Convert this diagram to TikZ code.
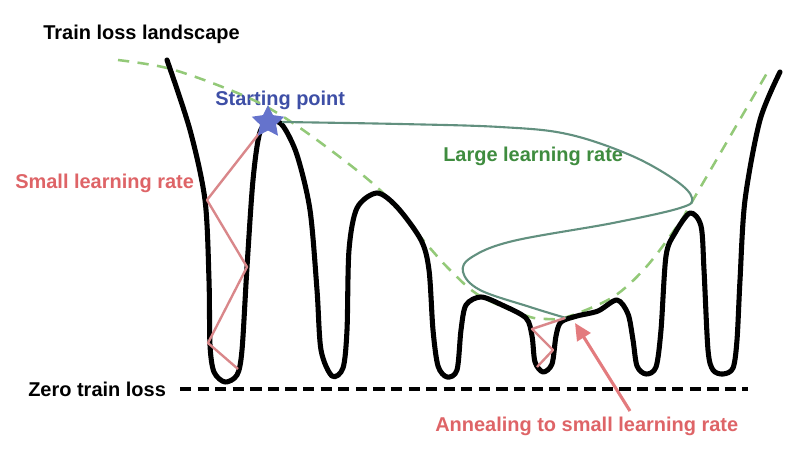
\documentclass[tikz,border=0pt]{standalone}
\usepackage{fontspec}
\setmainfont{Liberation Sans}
\usetikzlibrary{arrows.meta,shapes.geometric}
\definecolor{lossred}{HTML}{DE6467}
\definecolor{pathred}{HTML}{D9878A}
\definecolor{startblue}{HTML}{3E4FA6}
\definecolor{starfill}{HTML}{6573CC}
\definecolor{largegreen}{HTML}{3F8C3F}
\definecolor{dashgreen}{HTML}{93C978}
\definecolor{pathgreen}{HTML}{62907F}
\begin{document}
\begin{tikzpicture}[x=0.025cm, y=-0.025cm,
    lbl/.style={anchor=west, inner sep=0pt, font=\fontsize{14.2}{17}\selectfont\bfseries},
    landscape/.style={line width=3.6pt, line join=round, line cap=round},
    envelope/.style={dashgreen, line width=1.8pt, dash pattern=on 8pt off 6pt},
    zeroline/.style={line width=2.2pt, dash pattern=on 8pt off 4.5pt},
    smallstep/.style={pathred, line width=1.7pt, line join=round},
    largestep/.style={pathgreen, line width=1.5pt}]
  \useasboundingbox (0,0) rectangle (800,452);
  % labels
  \node[lbl] (title) at (43,34) {Train loss landscape};
  \node[lbl, startblue] (start) at (215,100) {Starting point};
  \node[lbl, lossred] (small) at (15,183) {Small learning rate};
  \node[lbl, largegreen] (large) at (443,156) {Large learning rate};
  \node[lbl] (zero) at (28,389) {Zero train loss};
  \node[lbl, lossred] (anneal) at (435,426) {Annealing to small learning rate};
  % zero loss level
  \coordinate (z0) at (180,389);
  \coordinate (z1) at (748,389);
  \draw[zeroline] (z0) -- (z1);
  % smoothed landscape
  \draw[envelope] plot[smooth, tension=0.55] coordinates {
    (118,60) (167,68) (220,86) (267,107) (317,140) (380,190) (423,240)
    (450,270) (480,296) (527,316) (547,319) (567,317) (613,297) (647,266)
    (680,222) (693,200) (767,73)};
  % loss landscape
  \draw[landscape] plot[smooth, tension=0.5] coordinates {
    (167,60) (190,130) (205,200) (209,280) (210,345) (214,372) (225,382)
    (237,375) (242,350) (247,267) (253,180) (260,132) (272,121) (283,126)
    (297,155) (310,210) (317,290) (321,350) (332,376) (343,368) (347,330)
    (349,250) (357,208) (377,193) (397,207) (421,240) (429,270) (433,330)
    (438,366) (447,377) (457,370) (461,330) (466,305) (481,297) (502,305)
    (526,318) (532,336) (535,362) (543,372) (552,364) (556,336) (561,322)
    (577,316) (598,311) (617,300) (628,314) (633,340) (637,366) (646,374)
    (656,367) (661,330) (666,256) (675,233) (690,213) (701,226) (704,270)
    (708,350) (713,370) (723,374) (733,368) (737,340) (740,280) (745,200)
    (760,120) (780,72)};
  % large learning rate path
  \draw[largestep] plot[smooth, tension=0.6] coordinates {
    (282,122) (400,124) (500,127) (567,134) (630,155) (675,180) (692,198)
    (680,208) (613,223) (513,241) (472,257) (463,272) (480,290) (530,307)
    (566,318)};
  % small learning rate paths
  \coordinate (s0) at (268,122);
  \coordinate (s1) at (207,200);
  \coordinate (s2) at (247,267);
  \coordinate (s3) at (208,343);
  \coordinate (s4) at (238,369);
  \draw[smallstep] (s0) -- (s1) -- (s2) -- (s3) -- (s4);
  \coordinate (a0) at (565,318);
  \coordinate (a1) at (532,329);
  \coordinate (a2) at (553,350);
  \coordinate (a3) at (537,367);
  \draw[smallstep] (a0) -- (a1) -- (a2) -- (a3);
  % starting point
  \node[star, star points=5, star point ratio=2.0, minimum size=0.85cm,
        inner sep=0pt, fill=starfill] (st) at (268,122) {};
  % annealing pointer
  \coordinate (p0) at (630,411);
  \coordinate (p1) at (575,323);
  \draw[lossred!85, line width=2.2pt, -{Triangle[length=12pt, width=11pt]}] (p0) -- (p1);
\end{tikzpicture}
\end{document}
